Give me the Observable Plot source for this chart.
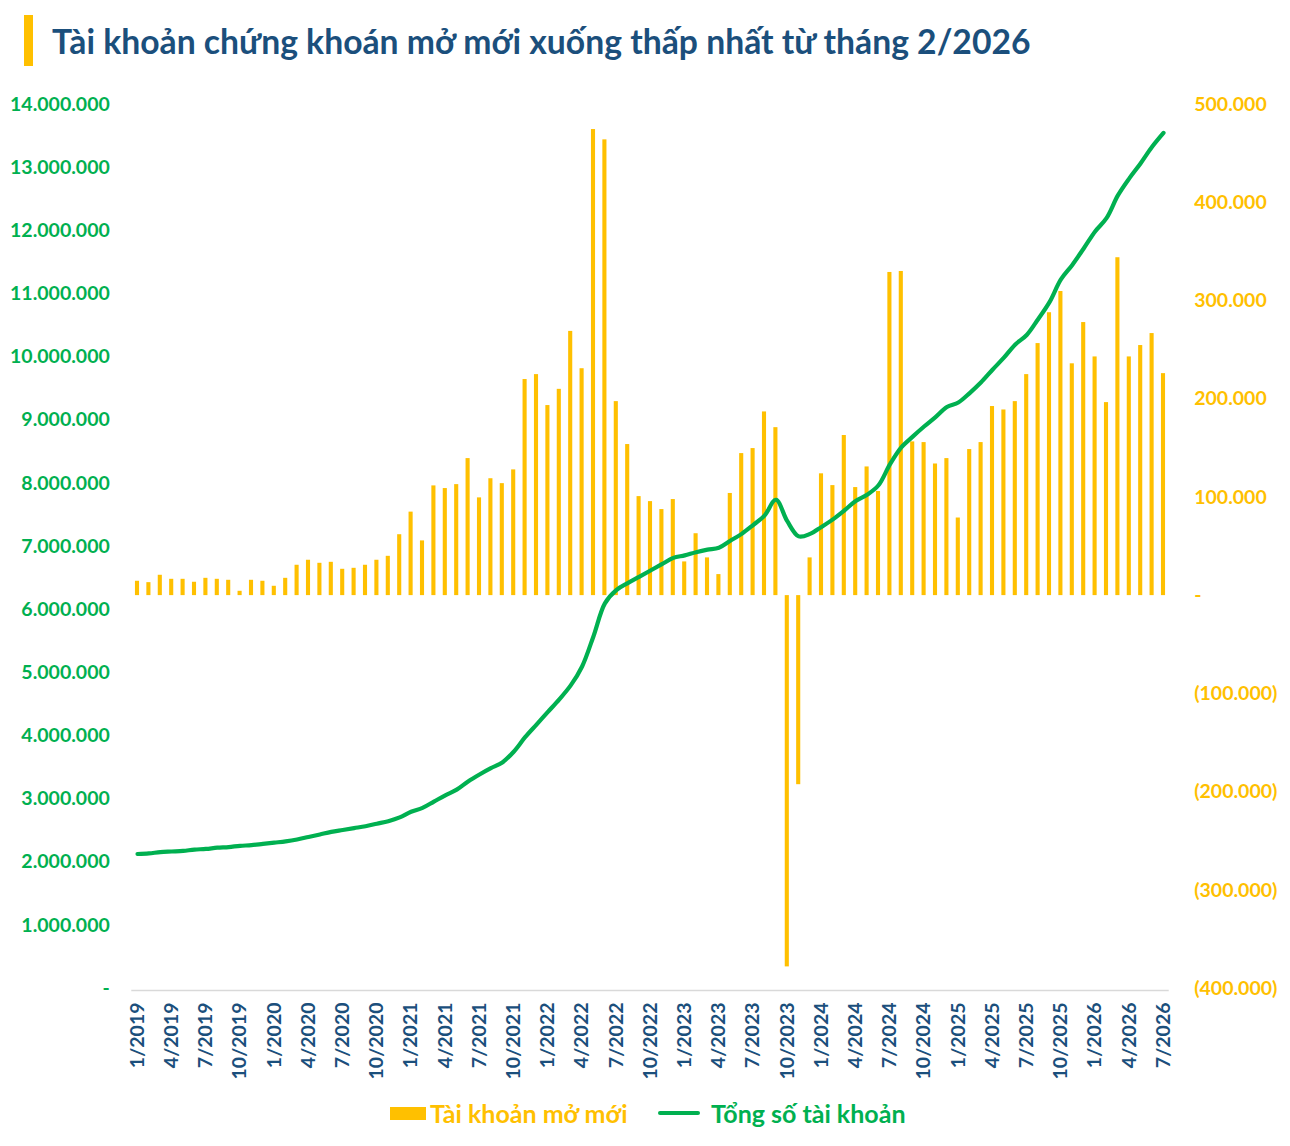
<!DOCTYPE html>
<html>
<head>
<meta charset="utf-8">
<script src="https://cdn.jsdelivr.net/npm/d3@7"></script>
<script src="https://cdn.jsdelivr.net/npm/@observablehq/plot@0.6"></script>
<style>
  html, body { margin: 0; padding: 0; background: #fff; }
  body { width: 1290px; font-family: Lato, "Open Sans", sans-serif; }
  #title { position: relative; height: 80px; }
  #title .mark { position: absolute; left: 24px; top: 15px; width: 9px; height: 51px; background: #ffc000; }
  #title .txt { position: absolute; left: 52px; top: 22px; font-weight: 700; font-size: 34px; line-height: 34px;
    color: #1b4f7c; white-space: nowrap; }
  #chart svg text { font-weight: 700; }
  #legend { position: relative; height: 51px; }
  #legend .sw1 { position: absolute; left: 390px; top: 12px; width: 36px; height: 13px; background: #ffc000; }
  #legend .t1 { position: absolute; left: 430px; top: 3px; font-size: 25px; line-height: 30px; font-weight: 700; color: #ffc000; white-space: nowrap; }
  #legend .sw2 { position: absolute; left: 658px; top: 16px; width: 42px; height: 4px; border-radius: 2px; background: #00b050; }
  #legend .t2 { position: absolute; left: 711px; top: 3px; font-size: 25px; line-height: 30px; font-weight: 700; color: #00b050; white-space: nowrap; }
</style>
</head>
<body>
<div id="title"><div class="mark"></div><div class="txt" id="titleText">Tài khoản chứng khoán mở mới xuống thấp nhất từ tháng 2/2026</div></div>
<div id="chart"></div>
<div id="legend">
  <div class="sw1"></div><div class="t1">Tài khoản mở mới</div>
  <div class="sw2"></div><div class="t2">Tổng số tài khoản</div>
</div>
<script>
// ---- data ----
const months = [
  "1/2019","2/2019","3/2019","4/2019","5/2019","6/2019","7/2019","8/2019","9/2019","10/2019","11/2019","12/2019",
  "1/2020","2/2020","3/2020","4/2020","5/2020","6/2020","7/2020","8/2020","9/2020","10/2020","11/2020","12/2020",
  "1/2021","2/2021","3/2021","4/2021","5/2021","6/2021","7/2021","8/2021","9/2021","10/2021","11/2021","12/2021",
  "1/2022","2/2022","3/2022","4/2022","5/2022","6/2022","7/2022","8/2022","9/2022","10/2022","11/2022","12/2022",
  "1/2023","2/2023","3/2023","4/2023","5/2023","6/2023","7/2023","8/2023","9/2023","10/2023","11/2023","12/2023",
  "1/2024","2/2024","3/2024","4/2024","5/2024","6/2024","7/2024","8/2024","9/2024","10/2024","11/2024","12/2024",
  "1/2025","2/2025","3/2025","4/2025","5/2025","6/2025","7/2025","8/2025","9/2025","10/2025","11/2025","12/2025",
  "1/2026","2/2026","3/2026","4/2026","5/2026","6/2026","7/2026"
];
// Tài khoản mở mới (right axis)
const newAccounts = [
  14600, 13200, 20700, 16600, 16600, 13600, 17600, 16600, 15600, 4400, 15600, 14600,
  9500, 17600, 30900, 36000, 32900, 33900, 26800, 27800, 30900, 36000, 40000, 62000,
  85000, 55700, 111700, 109000, 113000, 139500, 99500, 119000, 114000, 128000, 220000, 225000,
  193500, 210000, 269000, 231000, 474500, 464000, 197500, 153800, 100800, 95700, 87600, 97800,
  34300, 63000, 38400, 21400, 104000, 144600, 149700, 187000, 171000, -378000, -192500, 38400,
  124000, 112000, 163000, 110000, 131000, 106000, 329000, 330000, 156500, 155800, 134000, 139500,
  79000, 148700, 155800, 192500, 189000, 197500, 225000, 256600, 288000, 309600, 236000, 278000,
  243000, 196500, 344000, 243000, 254600, 266800, 226000
];
// Tổng số tài khoản (left axis), millions
const totalAccountsM = [
  2.13, 2.14, 2.16, 2.17, 2.18, 2.20, 2.21, 2.23, 2.24, 2.26, 2.27, 2.29,
  2.31, 2.33, 2.36, 2.40, 2.44, 2.48, 2.51, 2.54, 2.57, 2.61, 2.65, 2.71,
  2.80, 2.86, 2.96, 3.06, 3.15, 3.28, 3.39, 3.49, 3.58, 3.75, 3.98, 4.18,
  4.38, 4.58, 4.80, 5.10, 5.58, 6.10, 6.31, 6.42, 6.52, 6.62, 6.72, 6.82,
  6.86, 6.91, 6.95, 6.98, 7.09, 7.20, 7.34, 7.49, 7.74, 7.40, 7.16, 7.20,
  7.31, 7.43, 7.57, 7.72, 7.82, 7.97, 8.30, 8.57, 8.74, 8.90, 9.05, 9.21,
  9.28, 9.43, 9.60, 9.80, 9.99, 10.20, 10.35, 10.60, 10.87, 11.23, 11.46, 11.72,
  11.99, 12.20, 12.56, 12.83, 13.07, 13.33, 13.55
];
const leftTicks = [0, 1e6, 2e6, 3e6, 4e6, 5e6, 6e6, 7e6, 8e6, 9e6, 10e6, 11e6, 12e6, 13e6, 14e6];
const rightTicks = [-400000, -300000, -200000, -100000, 0, 100000, 200000, 300000, 400000, 500000];
const xTickLabels = ["1/2019","4/2019","7/2019","10/2019","1/2020","4/2020","7/2020","10/2020",
  "1/2021","4/2021","7/2021","10/2021","1/2022","4/2022","7/2022","10/2022","1/2023","4/2023","7/2023","10/2023",
  "1/2024","4/2024","7/2024","10/2024","1/2025","4/2025","7/2025","10/2025","1/2026","4/2026","7/2026"];

// ---- dual-axis mapping (right -400k..500k  <->  left 0..14M) ----
const L0 = 0, L1 = 14e6, R0 = -400000, R1 = 500000;
const toLeft = v => (v - R0) * (L1 - L0) / (R1 - R0) + L0;
const fromLeft = y => Math.round((y - L0) * (R1 - R0) / (L1 - L0) + R0);

const loc = d3.formatLocale({decimal: ",", thousands: ".", grouping: [3], currency: ["", ""]});
const f = loc.format(",d");
const fmtLeft = d => d === 0 ? "-" : f(d);
const fmtRight = d => d === 0 ? "-" : d < 0 ? "(" + f(-d) + ")" : f(d);

const data = months.map((m, i) => ({i, m, n: newAccounts[i], t: totalAccountsM[i] * 1e6}));
const zeroL = toLeft(0);
const xTickIdx = xTickLabels.map(l => months.indexOf(l));

const chart = Plot.plot({
  width: 1290,
  height: 1015,
  marginTop: 24,
  marginBottom: 107,
  marginLeft: 131.3,
  marginRight: 121.3,
  x: {type: "linear", domain: [-0.5, months.length - 0.5], axis: null, label: null},
  y: {domain: [L0, L1], axis: null, label: null},
  style: {fontFamily: "Lato, 'Open Sans', sans-serif", background: "#fff"},
  marks: [
    Plot.ruleY([0], {stroke: "#d9d9d9", strokeWidth: 1.5, dy: 2}),
    Plot.rect(data, {x1: d => d.i - 0.18, x2: d => d.i + 0.18, y1: () => zeroL, y2: d => toLeft(d.n), fill: "#ffc000"}),
    Plot.line(data, {x: "i", y: "t", stroke: "#00b050", strokeWidth: 4.2, curve: "catmull-rom", strokeLinecap: "round"}),
    Plot.axisY(leftTicks, {anchor: "left", label: null, tickSize: 0, tickPadding: 22, tickFormat: fmtLeft,
      color: "#00b050", fontSize: 19.5, fontWeight: "bold"}),
    Plot.axisY(rightTicks.map(toLeft), {anchor: "right", label: null, tickSize: 0, tickPadding: 25, tickFormat: d => fmtRight(fromLeft(d)),
      color: "#ffc000", fontSize: 19.5, fontWeight: "bold", textAnchor: "start"}),
    Plot.axisX(xTickIdx, {anchor: "bottom", label: null, tickSize: 0, tickPadding: 14, tickRotate: -90,
      tickFormat: i => months[i], color: "#1b4f7c", fontSize: 19.5, fontWeight: "bold"})
  ]
});
document.getElementById("chart").appendChild(chart);

// fit title width
(function () {
  const el = document.getElementById("titleText");
  const c = document.createElement("canvas").getContext("2d");
  c.font = "700 34px Lato";
  const w = c.measureText(el.textContent).width;
  if (w > 0) {
    const fs = Math.min(40, 34 * 981 / w);
    el.style.fontSize = fs.toFixed(1) + "px";
    el.style.lineHeight = fs.toFixed(1) + "px";
    el.style.top = (55 - fs * 0.9) + "px";
  }
})();
</script>
</body>
</html>
